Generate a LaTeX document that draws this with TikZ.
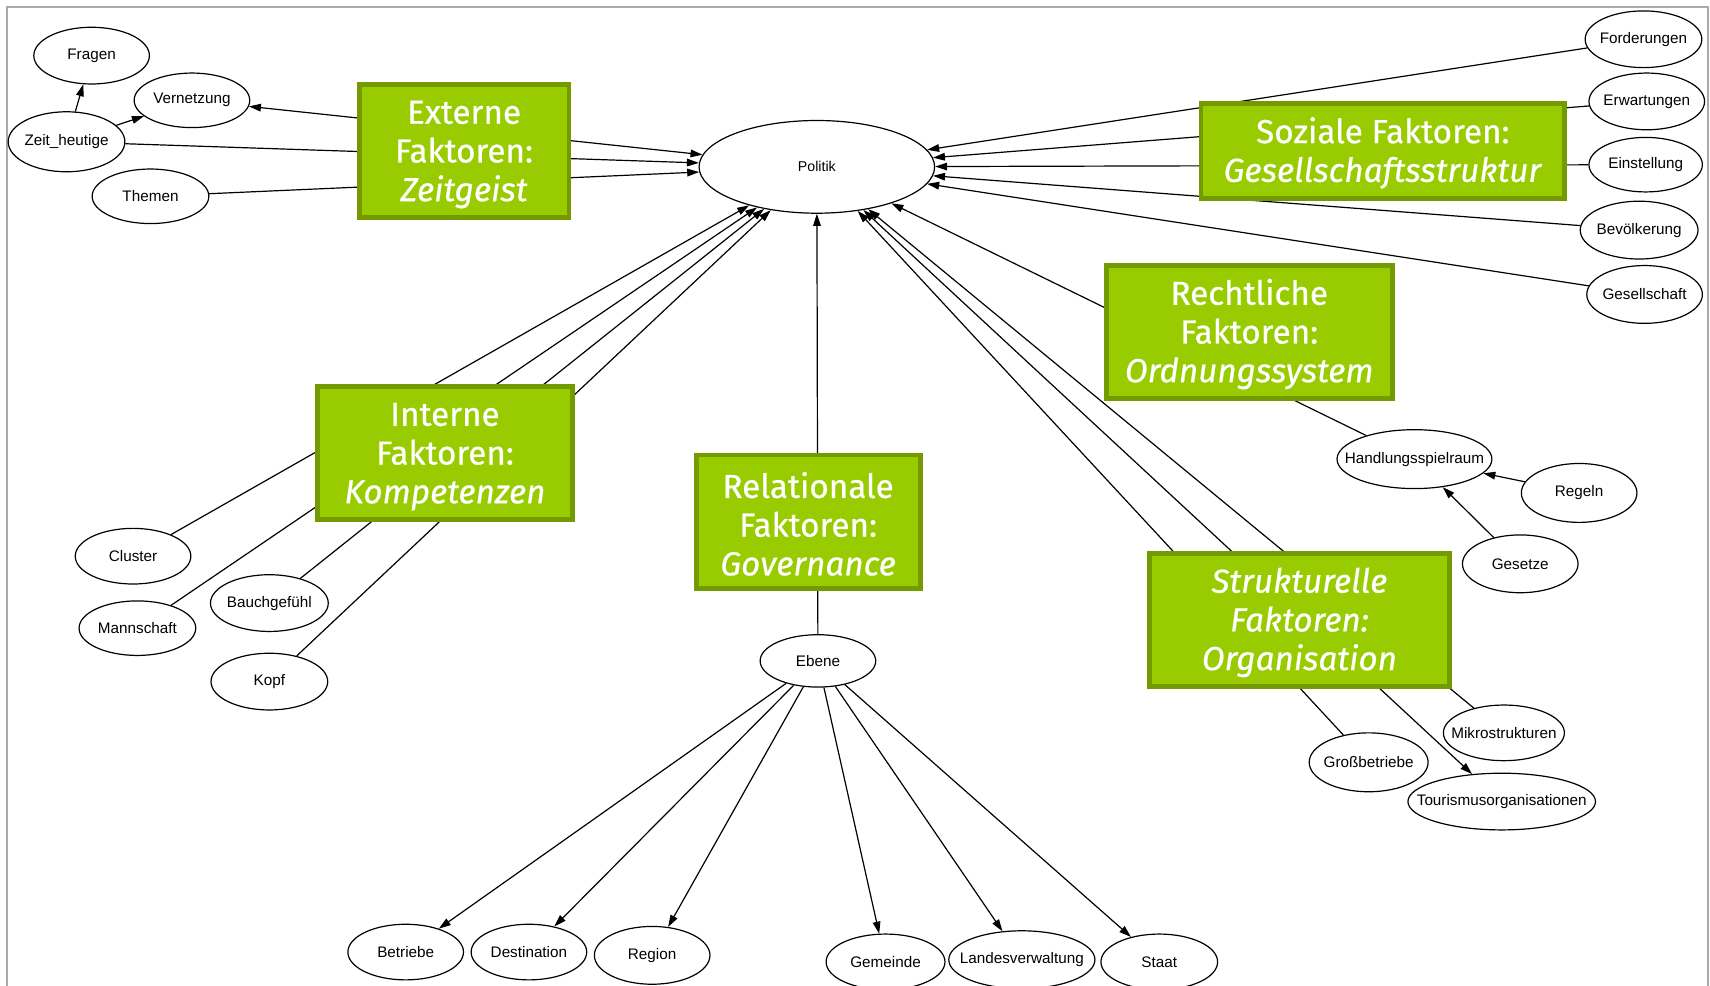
\documentclass[tikz,border=0pt]{standalone}
\usepackage{fontspec}
\setmainfont{Liberation Sans}
\newfontfamily\boxfont[FakeBold=0.6]{Fira Sans}
\usetikzlibrary{shapes.geometric,arrows.meta}
\definecolor{boxfill}{RGB}{153,204,0}
\definecolor{boxline}{RGB}{115,155,0}
\definecolor{framegray}{RGB}{170,170,170}
\newcommand{\firstlinestrut}{\rule{0pt}{27.5pt}}
\begin{document}
\begin{tikzpicture}[x=1pt,y=-1pt,
  leaf/.style={ellipse,draw,line width=1.1pt,fill=white,minimum width=106pt,minimum height=51pt,inner sep=0pt,font=\fontsize{14}{16}\selectfont,
    execute at begin node={\hbox to 0pt\bgroup\hss},execute at end node={\hss\egroup}},
  fac/.style={rectangle,draw=boxline,line width=4.5pt,fill=boxfill,text=white,align=center,inner sep=0pt,font=\boxfont\fontsize{30.5}{35.5}\selectfont},
  edge/.style={line width=1.1pt},
  arr/.style={edge,-{Triangle[length=11pt,width=7pt]}},
  biarr/.style={edge,{Triangle[length=11pt,width=7pt]}-{Triangle[length=11pt,width=7pt]}}
]
\useasboundingbox (0,0) rectangle (1568,904);
\draw[framegray,line width=2pt] (6.5,904) -- (6.5,6.5) -- (1566.5,6.5) -- (1566.5,904);

% central node
\node[leaf,minimum width=216pt,minimum height=85pt,font=\fontsize{13}{15}\selectfont] (Politik) at (749,153) {Politik};

% Externe
\node[leaf,minimum height=52pt] (Fragen) at (84,51) {Fragen};
\node[leaf,minimum height=50pt] (Vernetzung) at (176,92) {Vernetzung};
\node[leaf,minimum width=107pt,minimum height=55pt] (Zeit) at (61,130) {Zeit\_heutige};
\node[leaf,minimum width=107pt,minimum height=50pt] (Themen) at (138,180) {Themen};

% Soziale
\node[leaf,minimum width=107pt,minimum height=52pt] (Forderungen) at (1507,36) {Forderungen};
\node[leaf,minimum height=52pt] (Erwartungen) at (1510,93) {Erwartungen};
\node[leaf,minimum width=104pt,minimum height=50pt] (Einstellung) at (1509,151) {Einstellung};
\node[leaf,minimum width=108pt,minimum height=53pt] (Bevoelkerung) at (1503,211) {Bevölkerung};
\node[leaf,minimum height=53pt] (Gesellschaft) at (1508,270) {Gesellschaft};

% Rechtliche
\node[leaf,minimum width=142pt,minimum height=54pt] (Handlung) at (1297,421) {Handlungsspielraum};
\node[leaf,minimum height=54pt] (Regeln) at (1448,452) {Regeln};
\node[leaf,minimum height=53pt] (Gesetze) at (1394,517) {Gesetze};

% Strukturelle
\node[leaf,minimum width=111pt] (Mikro) at (1379,672) {Mikrostrukturen};
\node[leaf,minimum width=109pt,minimum height=54pt] (Gross) at (1255,699) {Großbetriebe};
\node[leaf,minimum width=172pt,minimum height=52pt] (Tourismus) at (1377,735) {Tourismusorganisationen};

% Relationale
\node[leaf,minimum height=48pt] (Ebene) at (750,606) {Ebene};
\node[leaf] (Betriebe) at (372,873) {Betriebe};
\node[leaf] (Destination) at (485,873) {Destination};
\node[leaf,minimum height=53pt] (Region) at (598,876) {Region};
\node[leaf,minimum width=109pt] (Gemeinde) at (812,882) {Gemeinde};
\node[leaf,minimum width=134pt,minimum height=53pt] (Landes) at (937,880) {Landesverwaltung};
\node[leaf,minimum width=107pt] (Staat) at (1063,882) {Staat};

% Interne
\node[leaf] (Cluster) at (122,510) {Cluster};
\node[leaf,minimum width=107pt,minimum height=50pt] (Mannschaft) at (126,576) {Mannschaft};
\node[leaf,minimum width=108pt,minimum height=52pt] (Bauch) at (247,553) {Bauchgefühl};
\node[leaf,minimum width=107pt,minimum height=52pt] (Kopf) at (247,625) {Kopf};

% edges
\draw[arr] (Zeit) -- (Fragen);
\draw[arr] (Zeit) -- (Vernetzung);
\draw[biarr] (Vernetzung) -- (Politik);
\draw[arr] (Zeit) -- (Politik);
\draw[arr] (Themen) -- (Politik);

\draw[arr] (Forderungen) -- (Politik);
\draw[arr] (Erwartungen) -- (Politik);
\draw[arr] (Einstellung) -- (Politik);
\draw[arr] (Bevoelkerung) -- (Politik);
\draw[arr] (Gesellschaft) -- (Politik);

\draw[arr] (Handlung) -- (Politik);
\draw[arr] (Regeln) -- (Handlung);
\draw[arr] (Gesetze) -- (Handlung);

\draw[arr] (Gross) -- (Politik);
\draw[arr] (Mikro) -- (Politik);
\draw[biarr] (Tourismus) -- (Politik);

\draw[arr] (Ebene) -- (Politik);
\foreach \t in {Betriebe,Destination,Region,Gemeinde,Landes,Staat}
  \draw[arr] (Ebene) -- (\t);

\draw[arr] (Cluster) -- (Politik);
\draw[arr] (Mannschaft) -- (Politik);
\draw[arr] (Bauch) -- (Politik);
\draw[arr] (Kopf) -- (Politik);

% factor boxes (on top)
\node[fac,minimum width=192.5pt,minimum height=122.5pt] (Externe) at (425.5,138.5) {\firstlinestrut Externe\\Faktoren:\\\textit{Zeitgeist}};
\node[fac,minimum width=333.5pt,minimum height=86.5pt] (Soziale) at (1268,138.5) {\firstlinestrut Soziale Faktoren:\\\textit{Gesellschaftsstruktur}};
\node[fac,minimum width=262.5pt,minimum height=122.5pt] (Rechtliche) at (1145.5,304.5) {\firstlinestrut Rechtliche\\Faktoren:\\\textit{Ordnungssystem}};
\node[fac,minimum width=233.5pt,minimum height=122.5pt] (Interne) at (408,415.5) {\firstlinestrut Interne\\Faktoren:\\\textit{Kompetenzen}};
\node[fac,minimum width=205.5pt,minimum height=122.5pt] (Relationale) at (741,478.5) {\firstlinestrut Relationale\\Faktoren:\\\textit{Governance}};
\node[fac,minimum width=274.5pt,minimum height=122.5pt] (Strukturelle) at (1191.5,568.5) {\firstlinestrut\textit{Strukturelle}\\\textit{Faktoren:}\\\textit{Organisation}};
\end{tikzpicture}
\end{document}
